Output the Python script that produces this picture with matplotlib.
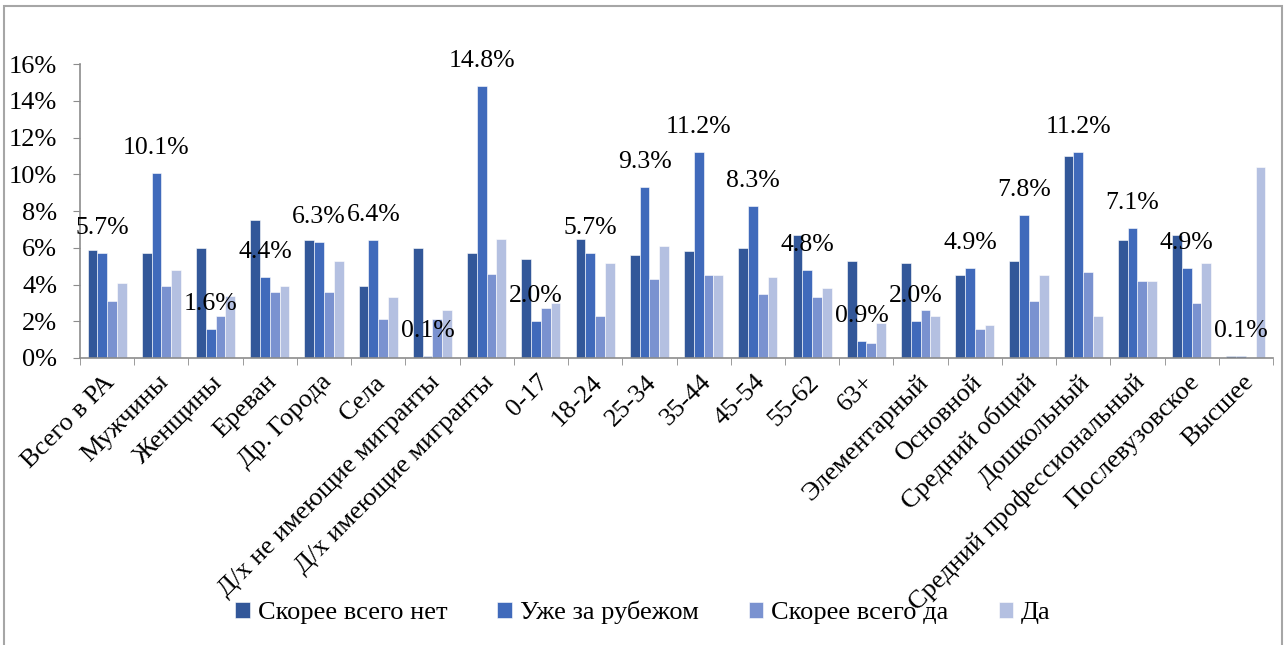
import matplotlib.pyplot as plt
import matplotlib.transforms as mtransforms
from matplotlib.patches import Rectangle
import numpy as np

plt.rcParams['font.family'] = ['Liberation Serif', 'DejaVu Serif']

categories = ['Всего в РА', 'Мужчины', 'Женщины', 'Ереван', 'Др. Города', 'Села',
              'Д/х не имеющие мигранты', 'Д/х имеющие мигранты', '0-17', '18-24',
              '25-34', '35-44', '45-54', '55-62', '63+', 'Элементарный', 'Основной',
              'Средний общий', 'Дошкольный', 'Средний профессиональный',
              'Послевузовское', 'Высшее']

series_names = ['Скорее всего нет', 'Уже за рубежом', 'Скорее всего да', 'Да']

no_values = [5.9, 5.7, 6.0, 7.5, 6.4, 3.9, 6.0, 5.7, 5.4, 6.5, 5.6,
             5.8, 6.0, 6.7, 5.3, 5.2, 4.5, 5.3, 11.0, 6.4, 6.7, 0.1]
abroad_values = [5.7, 10.1, 1.6, 4.4, 6.3, 6.4, 0.1, 14.8, 2.0, 5.7, 9.3,
                 11.2, 8.3, 4.8, 0.9, 2.0, 4.9, 7.8, 11.2, 7.1, 4.9, 0.1]
rather_yes_values = [3.1, 3.9, 2.3, 3.6, 3.6, 2.1, 2.1, 4.6, 2.7, 2.3, 4.3,
                     4.5, 3.5, 3.3, 0.8, 2.6, 1.6, 3.1, 4.7, 4.2, 3.0, 0.0]
yes_values = [4.1, 4.8, 3.4, 3.9, 5.3, 3.3, 2.6, 6.5, 3.0, 5.2, 6.1,
              4.5, 4.4, 3.8, 1.9, 2.3, 1.8, 4.5, 2.3, 4.2, 5.2, 10.4]

colors = ['#325799', '#406ABB', '#7A92D0', '#B4C0E1']
fs = 19

fig = plt.figure(figsize=(12.86, 6.45), dpi=100)
ax = fig.add_axes([0.0622, 0.445, 0.9277, 0.4554])

# outer chart frame
fig.patches.append(Rectangle((0.0031, -0.05), 0.9938, 1.0407, transform=fig.transFigure,
                             fill=False, edgecolor='#a6a6a6', linewidth=1.5))

x = np.arange(len(categories))
width = 0.18
all_series = [no_values, abroad_values, rather_yes_values, yes_values]
for i, (vals, name, col) in enumerate(zip(all_series, series_names, colors)):
    ax.bar(x + (i - 1.5) * width, vals, width, color=col, label=name,
           edgecolor='white', linewidth=0.4)

# data labels on the "abroad" series
for xi, v in zip(x, abroad_values):
    ax.annotate(f'{v:.1f}%', (xi - 0.5 * width, v), xytext=(0, 18),
                textcoords='offset points', ha='center', va='center', fontsize=18.5)

ax.set_xlim(-0.5, len(categories) - 0.5)
ax.set_ylim(0, 16)
ax.set_yticks(np.arange(0, 17, 2))
ax.set_yticklabels([f'{t}%' for t in range(0, 17, 2)], fontsize=fs)
ax.tick_params(axis='y', length=5, color='#8c8c8c', pad=11.5)

ax.set_xticks(x)
ax.set_xticks(np.arange(-0.5, len(categories), 1), minor=True)
ax.tick_params(axis='x', which='major', length=0, pad=15)
ax.tick_params(axis='x', which='minor', length=5, color='#8c8c8c')
ax.set_xticklabels(categories, fontsize=fs, rotation=45, ha='right', va='center',
                   rotation_mode='anchor')
shift = mtransforms.ScaledTranslation(4 / 100, 0, fig.dpi_scale_trans)
for lab in ax.get_xticklabels():
    lab.set_transform(lab.get_transform() + shift)

for s in ['top', 'right']:
    ax.spines[s].set_visible(False)
for s in ['left', 'bottom']:
    ax.spines[s].set_color('#8c8c8c')
    ax.spines[s].set_linewidth(1.2)

fig.legend(loc='center', bbox_to_anchor=(0.5, 0.05), ncol=4, frameon=False,
           fontsize=fs, handlelength=0.55, handleheight=0.55, handletextpad=0.3,
           columnspacing=1.9)

plt.savefig('out.png', dpi=100)
